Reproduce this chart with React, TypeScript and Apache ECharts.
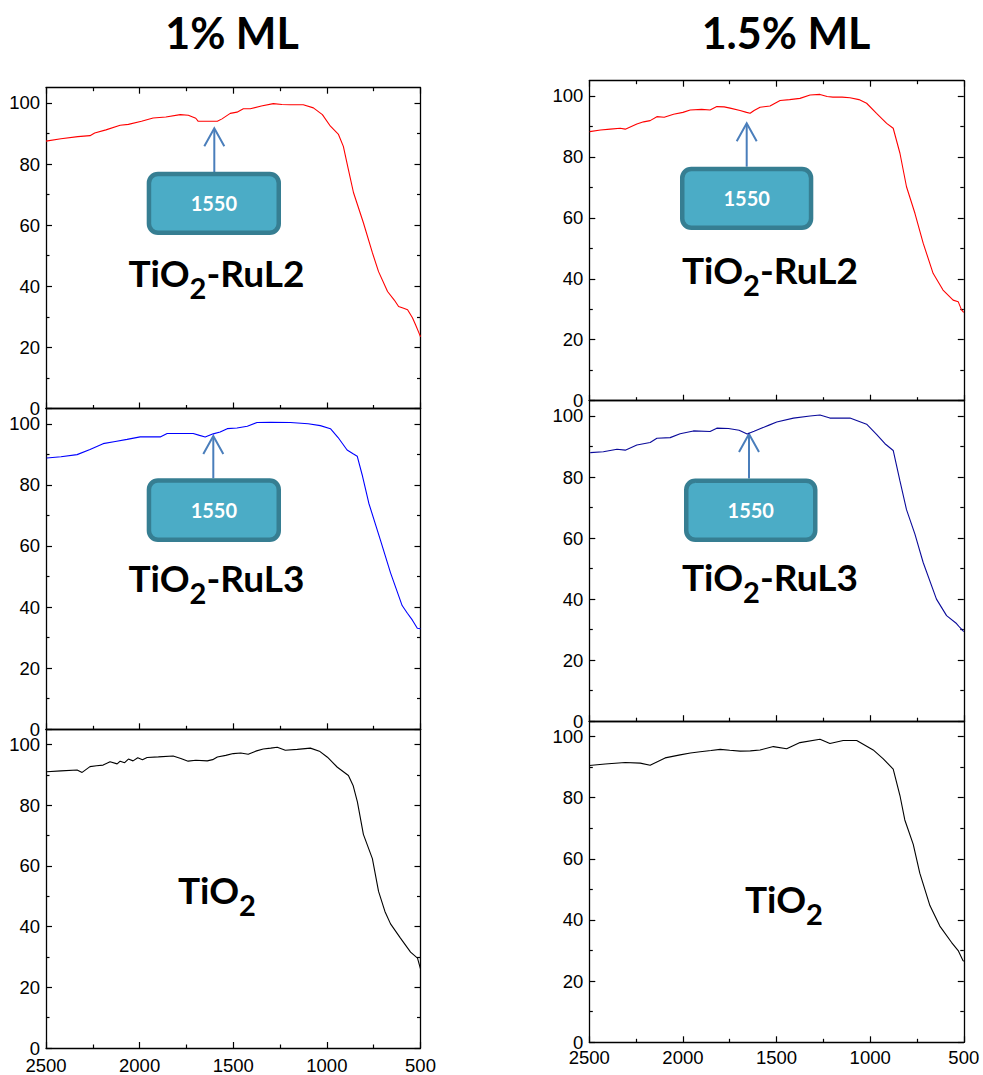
import React, { useEffect, useRef } from "react";
import * as echarts from "echarts";

// ---- axis ticks ----
const xMajorTicks = [500, 1000, 1500, 2000, 2500];
const xMinorTicks = [750, 1250, 1750, 2250];
const yMajorTicks = [0, 20, 40, 60, 80, 100];
const yMinorTicks = [10, 30, 50, 70, 90];

// ---- texts ----
const columnTitles = ["1% ML", "1.5% ML"];
const peakLabel = "1550";

// ---- 1% ML, TiO2-RuL2 (red) ----
const l1Wn = [2500, 2420, 2330, 2265, 2240, 2180, 2104, 2060, 1990, 1928, 1860, 1783, 1740, 1700, 1687, 1585, 1560, 1516, 1480, 1446, 1409, 1350, 1286, 1240, 1195, 1126, 1072, 1024, 981, 938, 912, 885, 858, 805, 757, 724, 676, 640, 617, 590, 569, 543, 527, 510, 500];
const l1T = [87.5, 88.3, 89.0, 89.3, 90.2, 91.2, 92.7, 93.0, 94.0, 95.1, 95.4, 96.2, 96.0, 95.0, 94.0, 94.0, 94.8, 96.6, 97.0, 98.1, 98.1, 99.0, 99.8, 99.5, 99.4, 99.4, 98.4, 96.2, 92.4, 89.7, 85.8, 78.2, 70.7, 60.8, 51.0, 44.8, 38.3, 35.5, 33.4, 32.8, 32.3, 29.7, 27.5, 25.0, 23.5];

// ---- 1% ML, TiO2-RuL3 (blue) ----
const l2Wn = [2496, 2420, 2334, 2265, 2195, 2130, 2067, 1997, 1890, 1853, 1714, 1680, 1650, 1607, 1570, 1532, 1480, 1425, 1373, 1300, 1195, 1100, 1035, 981, 940, 892, 860, 838, 812, 776, 714, 660, 598, 570, 544, 517, 500];
const l2T = [88.8, 89.2, 89.9, 91.6, 93.5, 94.2, 94.9, 95.7, 95.7, 96.8, 96.8, 96.2, 95.7, 96.7, 97.3, 98.4, 98.6, 99.2, 100.4, 100.5, 100.4, 100.0, 99.4, 98.4, 95.5, 91.4, 90.2, 89.4, 83.4, 74.0, 61.9, 51.2, 40.5, 38.0, 35.8, 33.1, 32.9];

// ---- 1% ML, TiO2 (black) ----
const l3Wn = [2496, 2420, 2334, 2307, 2265, 2230, 2195, 2158, 2120, 2104, 2080, 2060, 2035, 2010, 1985, 1960, 1900, 1821, 1780, 1741, 1700, 1639, 1610, 1585, 1540, 1500, 1460, 1420, 1380, 1340, 1300, 1265, 1222, 1158, 1088, 1040, 997, 944, 885, 860, 837, 805, 757, 724, 690, 660, 607, 553, 516, 500];
const l3T = [91.0, 91.3, 91.6, 90.8, 92.7, 93.0, 93.2, 94.3, 93.6, 94.5, 94.0, 95.2, 94.6, 95.6, 95.0, 95.7, 95.9, 96.2, 95.4, 94.5, 94.8, 94.6, 95.0, 95.9, 96.4, 97.0, 97.2, 96.8, 97.8, 98.5, 98.8, 99.1, 98.1, 98.4, 98.8, 97.8, 95.8, 92.5, 89.8, 86.5, 81.1, 70.4, 62.4, 51.6, 45.0, 40.9, 36.2, 31.6, 29.6, 26.1];

// ---- 1.5% ML, TiO2-RuL2 (red) ----
const r1Wn = [2498, 2440, 2388, 2335, 2308, 2246, 2210, 2175, 2139, 2100, 2050, 2000, 1961, 1900, 1855, 1819, 1780, 1748, 1695, 1660, 1641, 1620, 1588, 1535, 1481, 1430, 1375, 1321, 1268, 1230, 1199, 1150, 1108, 1060, 1019, 966, 912, 877, 841, 806, 761, 717, 664, 611, 557, 530, 512, 504, 500];
const r1T = [88.3, 88.8, 89.1, 89.4, 89.1, 90.8, 91.5, 91.9, 93.2, 93.0, 94.0, 94.6, 95.4, 95.6, 95.4, 96.5, 96.4, 96.0, 95.2, 94.6, 94.3, 95.2, 96.3, 96.7, 98.5, 98.8, 99.2, 100.3, 100.5, 99.8, 99.6, 99.6, 99.4, 98.8, 97.6, 94.3, 91.0, 89.4, 81.2, 70.2, 61.5, 51.7, 41.8, 36.3, 33.0, 32.5, 29.8, 29.2, 29.0];

// ---- 1.5% ML, TiO2-RuL3 (navy) ----
const r2Wn = [2495, 2425, 2352, 2308, 2246, 2175, 2139, 2068, 2015, 1944, 1855, 1819, 1757, 1700, 1657, 1620, 1588, 1540, 1499, 1410, 1321, 1268, 1215, 1108, 1019, 966, 921, 877, 841, 806, 761, 717, 646, 592, 539, 521, 504, 500];
const r2T = [88.0, 88.3, 89.1, 88.8, 90.5, 91.3, 92.7, 92.9, 94.2, 95.1, 94.9, 96.0, 95.9, 95.3, 94.1, 95.0, 95.8, 97.0, 98.0, 99.3, 100.0, 100.3, 99.3, 99.3, 97.3, 94.0, 90.9, 88.7, 78.7, 69.3, 61.3, 52.0, 40.0, 34.6, 32.0, 30.7, 29.6, 29.4];

// ---- 1.5% ML, TiO2 (black) ----
const r3Wn = [2500, 2415, 2308, 2228, 2175, 2095, 2015, 1960, 1908, 1850, 1801, 1750, 1695, 1640, 1588, 1517, 1446, 1375, 1268, 1215, 1144, 1072, 984, 930, 877, 841, 815, 770, 735, 681, 628, 566, 530, 504, 500];
const r3T = [90.5, 91.0, 91.5, 91.3, 90.6, 93.0, 94.0, 94.6, 95.0, 95.4, 95.8, 95.5, 95.2, 95.3, 95.6, 96.7, 96.0, 98.0, 99.1, 97.7, 98.7, 98.7, 95.6, 92.7, 89.3, 80.7, 72.7, 64.7, 55.3, 44.7, 38.0, 32.7, 30.0, 26.7, 26.5];

const zip = (a: number[], b: number[]) => a.map((v, i) => [v, b[i]]);

const AX_FONT = '"Liberation Sans", Arial, sans-serif';
const TXT_FONT = 'Lato, "Noto Sans", sans-serif';

type Panel = {
  left: number; top: number; width: number; height: number;
  wn: number[]; t: number[]; color: string;
  topTicks?: boolean; xLabels?: boolean; xMargin?: number;
};

const panels: Panel[] = [
  { left: 46, top: 87.7, width: 374.5, height: 320.8, wn: l1Wn, t: l1T, color: "#ff0000", topTicks: true },
  { left: 46, top: 408.5, width: 374.5, height: 320.8, wn: l2Wn, t: l2T, color: "#0000ff" },
  { left: 46, top: 729.3, width: 374.5, height: 320.0, wn: l3Wn, t: l3T, color: "#000000", xLabels: true, xMargin: 8 },
  { left: 589.3, top: 80.7, width: 374.5, height: 320.0, wn: r1Wn, t: r1T, color: "#ff0000", topTicks: true },
  { left: 589.3, top: 400.7, width: 374.5, height: 320.5, wn: r2Wn, t: r2T, color: "#0a0a9a" },
  { left: 589.3, top: 721.2, width: 374.5, height: 321.1, wn: r3Wn, t: r3T, color: "#000000", xLabels: true, xMargin: 5.5 },
];

const plain = (v: number) => String(v);

function buildOption() {
  const grid: any[] = [];
  const xAxis: any[] = [];
  const yAxis: any[] = [];
  const series: any[] = [];
  const lineStyle = { color: "#000", width: 1.3 };
  const tickStyle = { color: "#000", width: 1.2 };

  panels.forEach((p, i) => {
    grid.push({ left: p.left, top: p.top, width: p.width, height: p.height, containLabel: false });
    const xBase = { type: "value", gridIndex: i, min: 500, max: 2500, inverse: true, splitLine: { show: false } };
    const xi = xAxis.length;
    xAxis.push({
      ...xBase, position: "bottom",
      axisLine: { show: true, onZero: false, lineStyle },
      axisTick: { show: true, inside: true, length: 6, customValues: xMajorTicks, lineStyle: tickStyle },
      axisLabel: {
        show: !!p.xLabels, customValues: xMajorTicks, margin: p.xMargin ?? 8, formatter: plain,
        fontSize: 18.5, color: "#000", fontFamily: AX_FONT, showMinLabel: true, showMaxLabel: true,
      },
    });
    xAxis.push({
      ...xBase, position: "bottom",
      axisLine: { show: false, onZero: false },
      axisTick: { show: true, inside: true, length: 3.5, customValues: xMinorTicks, lineStyle: tickStyle },
      axisLabel: { show: false },
    });
    xAxis.push({
      ...xBase, position: "top",
      axisLine: { show: true, onZero: false, lineStyle },
      axisTick: { show: !!p.topTicks, inside: true, length: 6, customValues: xMajorTicks, lineStyle: tickStyle },
      axisLabel: { show: false },
    });
    if (p.topTicks) {
      xAxis.push({
        ...xBase, position: "top",
        axisLine: { show: false, onZero: false },
        axisTick: { show: true, inside: true, length: 3.5, customValues: xMinorTicks, lineStyle: tickStyle },
        axisLabel: { show: false },
      });
    }

    const yBase = { type: "value", gridIndex: i, min: 0, max: 105, splitLine: { show: false } };
    const yi = yAxis.length;
    yAxis.push({
      ...yBase, position: "left",
      axisLine: { show: true, onZero: false, lineStyle },
      axisTick: { show: true, inside: true, length: 6, customValues: yMajorTicks, lineStyle: tickStyle },
      axisLabel: {
        show: true, customValues: yMajorTicks, margin: 6, fontSize: 18.5, color: "#000", formatter: plain,
        fontFamily: AX_FONT, showMinLabel: true, showMaxLabel: true,
      },
    });
    yAxis.push({
      ...yBase, position: "left",
      axisLine: { show: false, onZero: false },
      axisTick: { show: true, inside: true, length: 3.5, customValues: yMinorTicks, lineStyle: tickStyle },
      axisLabel: { show: false },
    });
    yAxis.push({
      ...yBase, position: "right",
      axisLine: { show: true, onZero: false, lineStyle },
      axisTick: { show: true, inside: true, length: 6, customValues: yMajorTicks, lineStyle: tickStyle },
      axisLabel: { show: false },
    });
    yAxis.push({
      ...yBase, position: "right",
      axisLine: { show: false, onZero: false },
      axisTick: { show: true, inside: true, length: 3.5, customValues: yMinorTicks, lineStyle: tickStyle },
      axisLabel: { show: false },
    });

    series.push({
      type: "line", xAxisIndex: xi, yAxisIndex: yi, data: zip(p.wn, p.t),
      showSymbol: false, symbol: "none", silent: true,
      lineStyle: { color: p.color, width: 1.1 }, itemStyle: { color: p.color },
    });
  });

  // ---- graphic annotations ----
  const graphic: any[] = [];
  const arrowColor = "#4a7ebb";
  const addArrow = (x: number, tipY: number, baseY: number) => {
    graphic.push({ type: "line", shape: { x1: x, y1: baseY, x2: x, y2: tipY + 1 }, style: { stroke: arrowColor, lineWidth: 2 } });
    graphic.push({
      type: "polyline",
      shape: { points: [[x - 10, tipY + 18], [x, tipY], [x + 10, tipY + 18]] },
      style: { stroke: arrowColor, lineWidth: 2, fill: null },
    });
  };
  const addBox = (x0: number, y0: number, x1: number, y1: number) => {
    const lw = 4.5;
    graphic.push({
      type: "rect",
      shape: { x: x0 + lw / 2, y: y0 + lw / 2, width: x1 - x0 - lw, height: y1 - y0 - lw, r: 9 },
      style: { fill: "#4bacc6", stroke: "#367e92", lineWidth: lw },
    });
    graphic.push({
      type: "text", x: (x0 + x1) / 2, y: (y0 + y1) / 2,
      style: { text: peakLabel, fill: "#ffffff", font: `bold 20px ${TXT_FONT}`, align: "center", verticalAlign: "middle" },
    });
  };
  const addLabel = (suffix: string, cx: number, cy: number) => {
    graphic.push({
      type: "text", x: cx, y: cy,
      style: {
        text: suffix ? `{a|TiO}{s|2}{a|${suffix}}` : `{a|TiO}{s|2}`,
        align: "center", verticalAlign: "middle", fill: "#000",
        rich: {
          a: { fontSize: 37, fontWeight: "bold", fontFamily: TXT_FONT, lineHeight: 59, fill: "#000" },
          s: { fontSize: 29, fontWeight: "bold", fontFamily: TXT_FONT, lineHeight: 29, padding: [30, 0, 0, 0], fill: "#000" },
        },
      },
    });
  };

  graphic.push({
    type: "text", x: 232, y: 32,
    style: { text: columnTitles[0], font: `bold 43px ${TXT_FONT}`, fill: "#000", align: "center", verticalAlign: "middle" },
  });
  graphic.push({
    type: "text", x: 786, y: 32,
    style: { text: columnTitles[1], font: `bold 43px ${TXT_FONT}`, fill: "#000", align: "center", verticalAlign: "middle" },
  });

  addArrow(214.3, 128.3, 172);
  addBox(146.7, 171.7, 281, 235);
  addLabel("-RuL2", 216.5, 272.5);

  addArrow(213.3, 436, 478.3);
  addBox(146.7, 478.3, 281, 542);
  addLabel("-RuL3", 216.5, 577.3);

  addLabel("", 217, 889);

  addArrow(746.7, 123.3, 166.7);
  addBox(680, 166.7, 813.3, 230);
  addLabel("-RuL2", 770, 269);

  addArrow(749, 434, 478.5);
  addBox(684, 478.5, 817.5, 542);
  addLabel("-RuL3", 770, 576.3);

  addLabel("", 784, 898);

  return {
    animation: false,
    backgroundColor: "#ffffff",
    grid, xAxis, yAxis, series, graphic,
  };
}

export default function App() {
  const ref = useRef<HTMLDivElement>(null);
  useEffect(() => {
    if (!ref.current) return;
    const chart = echarts.init(ref.current, undefined, { renderer: "svg" });
    chart.setOption(buildOption() as any);
    return () => chart.dispose();
  }, []);
  return (
    <div
      ref={ref}
      style={{ position: "absolute", left: 0, top: 0, width: 983, height: 1075, background: "#fff" }}
    />
  );
}
